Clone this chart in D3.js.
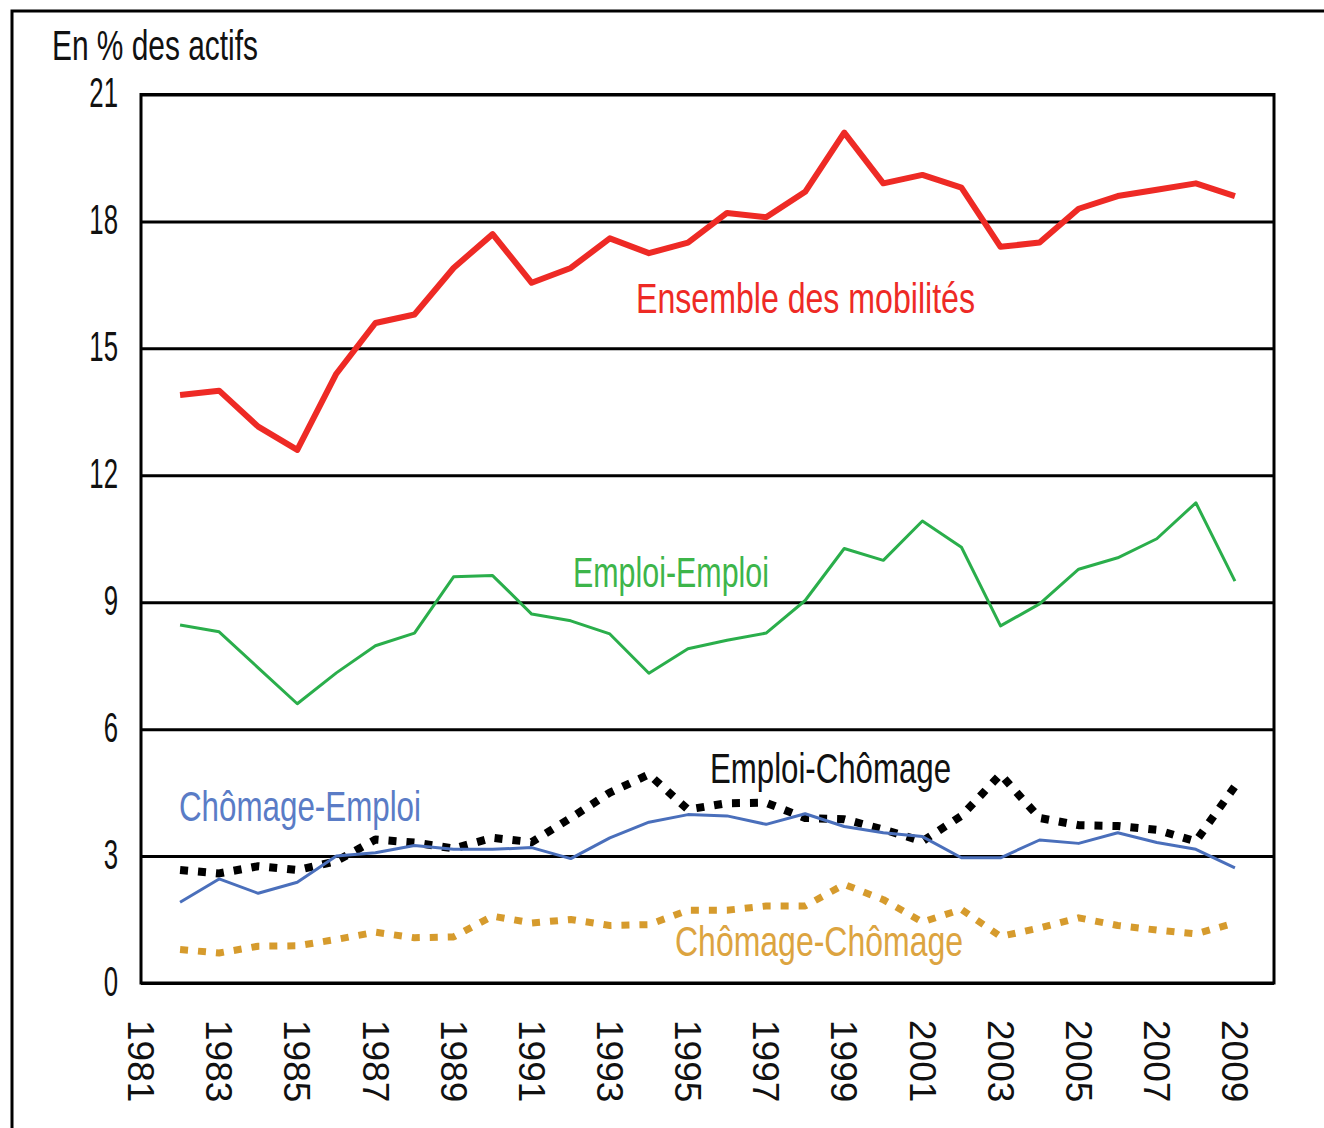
<!DOCTYPE html>
<html>
<head>
<meta charset="utf-8">
<script src="https://cdn.jsdelivr.net/npm/d3@7"></script>
<style>
  body { margin: 0; background: #fff; }
  svg text { font-family: 'Liberation Sans', Arial, sans-serif; }
</style>
</head>
<body>
<div class="chart"></div>
<script>
const years = [1982, 1983, 1984, 1985, 1986, 1987, 1988, 1989, 1990, 1991, 1992, 1993, 1994, 1995,
  1996, 1997, 1998, 1999, 2000, 2001, 2002, 2003, 2004, 2005, 2006, 2007, 2008, 2009];
const ensemble = [13.9, 14.0, 13.15, 12.6, 14.4, 15.6, 15.8, 16.9, 17.7, 16.55, 16.9, 17.6, 17.25, 17.5,
  18.2, 18.1, 18.7, 20.1, 18.9, 19.1, 18.8, 17.4, 17.5, 18.3, 18.6, 18.75, 18.9, 18.6];
const emploiEmploi = [8.46, 8.3, 7.45, 6.6, 7.33, 7.97, 8.27, 9.6, 9.63, 8.72, 8.56, 8.25, 7.32, 7.9,
  8.1, 8.27, 9.04, 10.27, 9.99, 10.92, 10.3, 8.44, 8.96, 9.78, 10.05, 10.5, 11.35, 9.5];
const chomageEmploi = [1.91, 2.46, 2.12, 2.38, 3.0, 3.08, 3.25, 3.16, 3.16, 3.2, 2.94, 3.43, 3.8, 3.98,
  3.95, 3.75, 4.0, 3.7, 3.55, 3.46, 2.96, 2.96, 3.38, 3.3, 3.55, 3.32, 3.16, 2.72];
const emploiChomage = [2.67, 2.59, 2.76, 2.67, 2.88, 3.39, 3.32, 3.18, 3.43, 3.33, 3.9, 4.5, 4.93, 4.1,
  4.25, 4.26, 3.9, 3.87, 3.63, 3.35, 3.95, 4.93, 3.9, 3.73, 3.71, 3.62, 3.35, 4.65];
const chomageChomage = [0.79, 0.71, 0.87, 0.88, 1.03, 1.2, 1.07, 1.09, 1.58, 1.42, 1.5, 1.36, 1.38, 1.72,
  1.72, 1.82, 1.82, 2.33, 1.97, 1.44, 1.74, 1.1, 1.3, 1.54, 1.36, 1.25, 1.16, 1.42];
const yTicks = [0, 3, 6, 9, 12, 15, 18, 21];
const xTicks = [1981, 1983, 1985, 1987, 1989, 1991, 1993, 1995, 1997, 1999, 2001, 2003, 2005, 2007, 2009];

const Width = 1324;
const Height = 1128;
const plotLeft = 141, plotRight = 1274, plotTop = 94.5, plotBottom = 983;

const svg = d3.select('.chart').append('svg').attr('width', Width).attr('height', Height);

// cadre extérieur (coupé à droite et en bas)
svg.append('rect').attr('x', 12).attr('y', 11).attr('width', Width).attr('height', Height)
  .attr('fill', 'none').attr('stroke', '#000').attr('stroke-width', 3);

const x = d3.scaleLinear().domain([1981, 2010]).range([plotLeft, plotRight]);
const y = d3.scaleLinear().domain([0, 21]).range([plotBottom, plotTop]);

// axe Y + grille
const yAxis = svg.append('g').attr('transform', 'translate(' + plotLeft + ',0)')
  .call(d3.axisLeft(y).tickValues(yTicks).tickSize(-(plotRight - plotLeft)).tickPadding(0));
yAxis.select('.domain').remove();
yAxis.selectAll('line').attr('stroke', '#000').attr('stroke-width', 3);
yAxis.selectAll('text').attr('font-size', 43).attr('fill', '#111').attr('x', 0).attr('dy', '0.29em')
  .attr('transform', 'translate(-23,0) scale(0.6,1)');

// axe X, étiquettes verticales
const xAxis = svg.append('g').attr('transform', 'translate(0,' + plotBottom + ')')
  .call(d3.axisBottom(x).tickValues(xTicks).tickSize(0).tickFormat(d3.format('d')));
xAxis.select('.domain').remove();
xAxis.selectAll('text').attr('font-size', 37).attr('fill', '#111').attr('text-anchor', 'start')
  .attr('y', 0).attr('dy', '0.36em').attr('transform', 'translate(0,37) rotate(90)');

// cadre du graphique
svg.append('rect').attr('x', plotLeft).attr('y', plotTop)
  .attr('width', plotRight - plotLeft).attr('height', plotBottom - plotTop)
  .attr('fill', 'none').attr('stroke', '#000').attr('stroke-width', 3);

const line = d3.line().x((d, i) => x(years[i])).y(d => y(d));

const series = [
  { values: chomageChomage, color: '#d69b2d', width: 7, dash: '8,10' },
  { values: emploiChomage, color: '#000', width: 8, dash: '8,10' },
  { values: chomageEmploi, color: '#4a6fbb', width: 3, dash: null },
  { values: emploiEmploi, color: '#2aae4b', width: 3, dash: null },
  { values: ensemble, color: '#ee2a25', width: 6, dash: null }
];
series.forEach(s => {
  svg.append('path').attr('d', line(s.values)).attr('fill', 'none')
    .attr('stroke', s.color).attr('stroke-width', s.width)
    .attr('stroke-linejoin', 'round')
    .attr('stroke-dasharray', s.dash);
});

// titre de l'axe
svg.append('text').attr('x', 52).attr('y', 60).attr('font-size', 43).attr('fill', '#111')
  .attr('textLength', 206).attr('lengthAdjust', 'spacingAndGlyphs').text('En % des actifs');

// libellés des séries
const labels = [
  { text: 'Ensemble des mobilités', x: 636, y: 313, w: 339, color: '#ee2a25' },
  { text: 'Emploi-Emploi', x: 573, y: 587, w: 196, color: '#3db54a' },
  { text: 'Chômage-Emploi', x: 179, y: 821, w: 242, color: '#5a7cc6' },
  { text: 'Emploi-Chômage', x: 710, y: 783, w: 241, color: '#111' },
  { text: 'Chômage-Chômage', x: 675, y: 956, w: 288, color: '#dca440' }
];
labels.forEach(l => {
  svg.append('text').attr('x', l.x).attr('y', l.y).attr('font-size', 42).attr('fill', l.color)
    .attr('textLength', l.w).attr('lengthAdjust', 'spacingAndGlyphs').text(l.text);
});
</script>
</body>
</html>
